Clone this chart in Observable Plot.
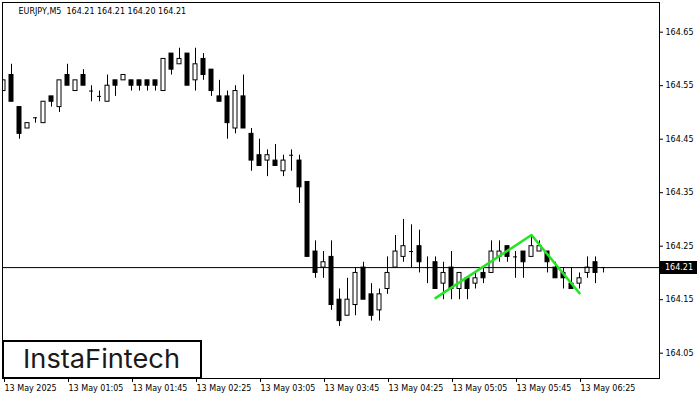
<!DOCTYPE html>
<html><head><meta charset="utf-8">
<script src="https://cdn.jsdelivr.net/npm/d3@7"></script>
<script src="https://cdn.jsdelivr.net/npm/@observablehq/plot@0.6"></script>
<style>
body{margin:0;background:#fff;}
#chart{position:relative;width:700px;height:400px;}
</style></head><body><div id="chart"></div>
<script>
// ---- data (5-minute EURJPY candles, bar index 0..75) ----
const opens = [164.54,164.57,164.51,164.47,164.49,164.48,164.53,164.51,164.57,164.54,
164.57,164.54,164.53,164.52,164.56,164.56,164.56,164.56,164.56,164.56,
164.54,164.61,164.59,164.61,164.56,164.60,164.58,164.53,164.53,164.47,
164.53,164.46,164.42,164.41,164.41,164.39,164.42,164.41,164.37,164.24,
164.21,164.23,164.15,164.12,164.14,164.21,164.16,164.13,164.17,164.21,
164.23,164.24,164.25,164.21,164.22,164.18,164.21,164.17,164.19,164.18,
164.20,164.20,164.23,164.25,164.23,164.24,164.23,164.24,164.24,164.21,
164.20,164.18,164.18,164.20,164.22,164.21];
const highs = [164.56,164.59,164.51,164.48,164.49,164.52,164.53,164.56,164.59,164.56,
164.58,164.55,164.54,164.57,164.56,164.57,164.56,164.56,164.56,164.56,
164.60,164.61,164.62,164.61,164.62,164.61,164.58,164.56,164.54,164.55,
164.57,164.47,164.45,164.43,164.44,164.42,164.43,164.42,164.37,164.26,
164.24,164.26,164.17,164.19,164.21,164.22,164.18,164.17,164.23,164.27,
164.30,164.29,164.28,164.23,164.23,164.22,164.24,164.20,164.19,164.20,
164.21,164.26,164.26,164.25,164.24,164.24,164.27,164.26,164.24,164.22,
164.21,164.21,164.20,164.23,164.23,164.21];
const lows = [164.54,164.52,164.45,164.47,164.48,164.48,164.51,164.50,164.55,164.54,
164.55,164.52,164.52,164.52,164.53,164.56,164.54,164.54,164.54,164.54,
164.54,164.57,164.59,164.55,164.54,164.56,164.53,164.52,164.45,164.46,
164.47,164.39,164.40,164.38,164.40,164.38,164.39,164.33,164.23,164.19,
164.19,164.13,164.10,164.12,164.12,164.15,164.11,164.11,164.16,164.21,
164.22,164.21,164.20,164.18,164.17,164.15,164.15,164.15,164.15,164.17,
164.18,164.20,164.22,164.22,164.19,164.19,164.23,164.24,164.20,164.19,
164.17,164.17,164.17,164.19,164.18,164.20];
const closes = [164.56,164.52,164.46,164.48,164.49,164.52,164.52,164.56,164.55,164.56,
164.55,164.54,164.53,164.55,164.55,164.57,164.55,164.55,164.55,164.55,
164.60,164.58,164.60,164.55,164.59,164.57,164.54,164.52,164.48,164.54,
164.47,164.41,164.40,164.42,164.40,164.41,164.42,164.36,164.23,164.20,
164.22,164.14,164.11,164.15,164.20,164.15,164.12,164.16,164.20,164.24,
164.25,164.24,164.22,164.21,164.17,164.20,164.17,164.20,164.17,164.19,
164.19,164.24,164.24,164.23,164.23,164.22,164.25,164.25,164.22,164.19,
164.19,164.17,164.19,164.21,164.20,164.21];
const timeTickIdx = [0,8,16,24,32,40,48,56,64,72];
const timeTickLabels = ["13 May 2025","13 May 01:05","13 May 01:45","13 May 02:25","13 May 03:05",
  "13 May 03:45","13 May 04:25","13 May 05:05","13 May 05:45","13 May 06:25"];
const priceTicks = [164.05,164.15,164.25,164.35,164.45,164.55,164.65];
const lastPrice = 164.21;
const headerText = "EURJPY,M5\u00a0 164.21 164.21 164.20 164.21";
const patternIdx = [54, 66, 72];
const patternPrice = [164.153, 164.271, 164.162];
const logoText = "InstaFintech";

// ---- build ----
const bars = opens.map((o, i) => ({i, open: o, high: highs[i], low: lows[i], close: closes[i]}));
const bodies = bars.filter(d => d.open !== d.close);
const dojis = bars.filter(d => d.open === d.close);
const pattern = patternIdx.map((x, k) => ({x, y: patternPrice[k]}));
const font = "'DejaVu Sans', sans-serif";

const chart = Plot.plot({
  width: 700, height: 400,
  marginLeft: 2, marginRight: 41, marginTop: 2, marginBottom: 22,
  style: {fontFamily: font, fontSize: "8px", color: "black", background: "white", overflow: "visible"},
  x: {type: "linear", domain: [-0.125, 82]},
  y: {domain: [164.0027, 164.7055]},
  marks: [
    Plot.ruleX(bars, {x: "i", y1: "low", y2: "high", stroke: "black", clip: "frame"}),
    Plot.rect(bodies, {x1: d => d.i - 0.25, x2: d => d.i + 0.25, y1: "open", y2: "close",
      fill: d => d.close > d.open ? "white" : "black", stroke: "black", clip: "frame"}),
    Plot.ruleY(dojis, {y: "open", x1: d => d.i - 0.25, x2: d => d.i + 0.25, stroke: "black", clip: "frame"}),
    Plot.ruleY([lastPrice], {stroke: "black"}),
    Plot.line(pattern, {x: "x", y: "y", stroke: "#22e622", strokeWidth: 2.5}),
    Plot.frame({stroke: "black"}),
    Plot.axisY({anchor: "right", ticks: priceTicks, tickSize: 3, tickPadding: 3,
      tickFormat: d3.format(".2f"), label: null, fill: "black"}),
    Plot.axisX({ticks: timeTickIdx, tickSize: 4, tickPadding: 3, textAnchor: "start", dx: 1,
      tickFormat: d => timeTickLabels[timeTickIdx.indexOf(d)], label: null, fill: "black"}),
    Plot.text([headerText], {frameAnchor: "top-left", dx: 16, dy: 9, lineAnchor: "middle",
      textAnchor: "start", text: d => d, fill: "black"})
  ]
});
document.getElementById("chart").appendChild(chart);

const svg = d3.select(chart);
const yScale = chart.scale("y");
const yp = yScale.apply(lastPrice);
const g = svg.append("g").attr("text-anchor", "start");
g.append("rect").attr("x", 660).attr("y", Math.round(yp) - 6).attr("width", 37).attr("height", 13).attr("fill", "black");
g.append("text").attr("x", 665).attr("y", Math.round(yp) + 0.5).attr("dy", "0.32em")
  .attr("fill", "white").attr("font-family", font).attr("font-size", 8).text(d3.format(".2f")(lastPrice));

const logo = svg.append("g").attr("text-anchor", "start");
logo.append("rect").attr("x", 3).attr("y", 341).attr("width", 198).attr("height", 37)
  .attr("fill", "white").attr("stroke", "black").attr("stroke-width", 2);
logo.append("text").attr("x", 23).attr("y", 368).attr("font-family", "Inter, Lato, sans-serif")
  .attr("font-size", 26).attr("font-weight", 400).attr("fill", "#1a1a1a")
  .attr("textLength", 157).attr("lengthAdjust", "spacingAndGlyphs").text(logoText);
</script></body></html>
